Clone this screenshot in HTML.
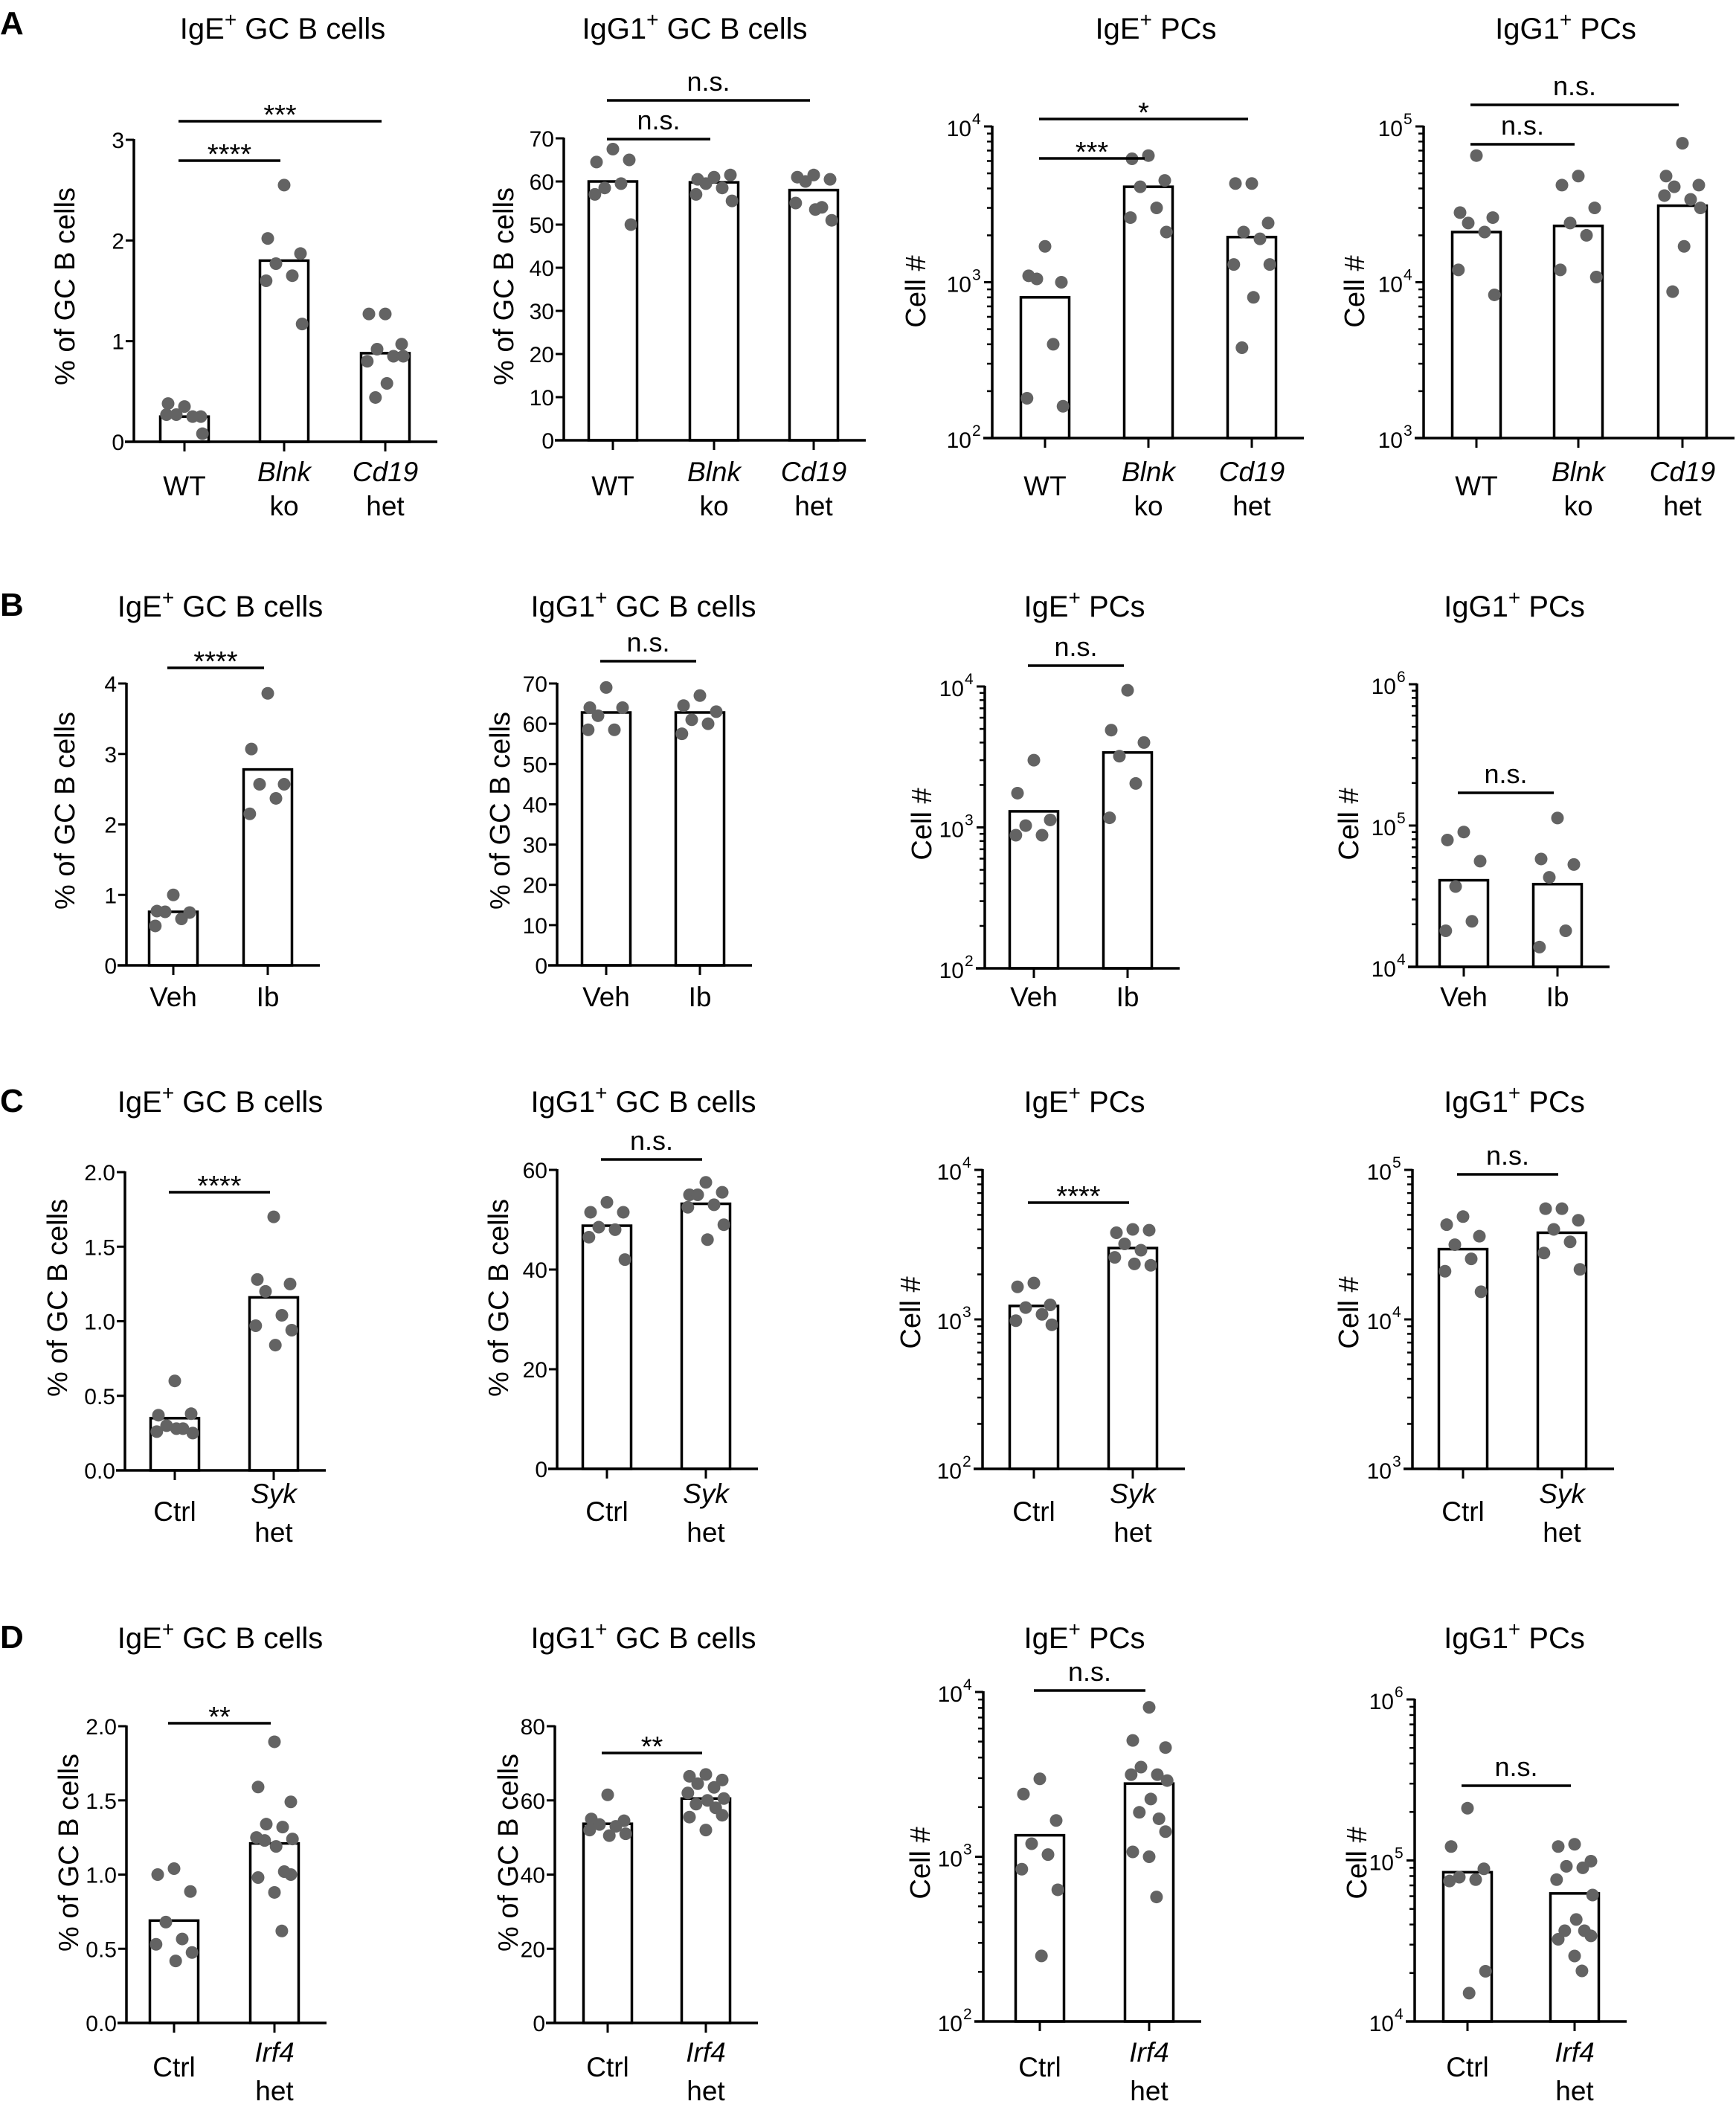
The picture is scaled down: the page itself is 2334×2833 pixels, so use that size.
<!DOCTYPE html>
<html><head><meta charset="utf-8">
<style>
html,body{margin:0;padding:0;background:#fff;}
svg{display:block;font-family:"Liberation Sans",Arial,sans-serif;}
</style></head>
<body>
<svg id="fig" width="2334" height="2833" viewBox="0 0 2334 2833" xmlns="http://www.w3.org/2000/svg">
<rect width="2334" height="2833" fill="#fff"/>
<text x="0" y="46" font-size="44" font-weight="bold">A</text>
<text x="0" y="828" font-size="44" font-weight="bold">B</text>
<text x="0" y="1495" font-size="44" font-weight="bold">C</text>
<text x="0" y="2216" font-size="44" font-weight="bold">D</text>
</svg>
<script>
// ---------- data ----------
const catsA = [["WT"],["Blnk","ko"],["Cd19","het"]];
const catsB = [["Veh"],["Ib"]];
const catsC = [["Ctrl"],["Syk","het"]];
const catsD = [["Ctrl"],["Irf4","het"]];

const ticksPct3 = [0,1,2,3];
const ticksPct4 = [0,1,2,3,4];
const ticks70 = [0,10,20,30,40,50,60,70];
const ticks2 = [0,0.5,1.0,1.5,2.0];
const ticks60 = [0,20,40,60];
const ticks80 = [0,20,40,60,80];

const a1Bars = [0.25,1.8,0.88];
const a1Pts = [[0.35,0.38,0.25,0.27,0.25,0.27,0.08],[2.55,2.02,1.87,1.77,1.65,1.6,1.17],[1.27,1.27,0.97,0.92,0.85,0.8,0.85,0.58,0.44]];
const a2Bars = [60,59.8,58];
const a2Pts = [[67.5,64.5,65,58.5,59.5,57,50],[61,60.5,61.5,59.5,58.5,57,55.5],[61.5,61,60.5,60,54,55,51,53.5]];
const a3Bars = [800,4100,1950];
const a3Pts = [[1700,1100,1000,1050,400,180,160],[6500,6200,4500,4100,3000,2600,2100],[4300,4300,2400,2100,1900,1300,1300,800,380]];
const a4Bars = [21000,23000,31000];
const a4Pts = [[65000,28000,26000,24000,21000,12000,8300],[48000,42000,30000,24000,20000,12000,10800],[78000,48000,42000,41000,34000,36000,30000,17000,8700]];

const b1Bars = [0.76,2.78];
const b1Pts = [[1.0,0.77,0.75,0.76,0.66,0.56],[3.86,3.07,2.57,2.57,2.37,2.15]];
const b2Bars = [62.8,62.8];
const b2Pts = [[69,64,64,62,58.5,58.5],[67,64.5,63,61,60,57.5]];
const b3Bars = [1300,3400];
const b3Pts = [[3000,1750,1130,1030,880,880],[9400,4900,4000,3200,2050,1170]];
const b4Bars = [41000,38500];
const b4Pts = [[90000,79000,56000,37000,21000,18000],[113000,58000,53000,43000,18000,13800]];

const c1Bars = [0.35,1.16];
const c1Pts = [[0.6,0.37,0.38,0.3,0.28,0.26,0.25,0.28],[1.7,1.28,1.25,1.2,1.04,0.97,0.94,0.84]];
const c2Bars = [48.8,53.2];
const c2Pts = [[53.5,51.5,51.5,48.5,48,46.5,42],[57.5,55,55.5,55,53,52.5,49,46]];
const c3Bars = [1230,3000];
const c3Pts = [[1750,1650,1250,1200,1080,980,920],[4000,3800,3950,3200,2900,2600,2300,2350]];
const c4Bars = [29500,38000];
const c4Pts = [[48700,43000,36000,31600,25400,21000,15300],[55000,55000,46000,40000,33000,27800,21600]];

const d1Bars = [0.69,1.21];
const d1Pts = [[1.04,1.0,0.886,0.68,0.566,0.53,0.475,0.418],[1.895,1.59,1.49,1.34,1.32,1.25,1.24,1.19,1.23,1.02,1.0,0.98,0.88,0.62]];
const d2Bars = [53.7,60.5];
const d2Pts = [[61.5,55,54.5,53.5,53,52,51,50.5],[67,66.5,65.5,64.5,63.5,62,60.5,60,59,58,56,55.5,52]];
const d3Bars = [1350,2780];
const d3Pts = [[2970,2400,1660,1200,1030,840,630,250],[8070,5080,4600,3500,3150,3150,2900,2240,1860,1700,1420,1070,1000,570]];
const d4Bars = [84500,62400];
const d4Pts = [[211000,122000,88700,78700,76000,74500,20500,15000],[126000,122000,99000,92000,90000,76000,61000,43000,36600,36600,34000,32400,25500,20600]];

// ---------- drawing ----------
const NS = "http://www.w3.org/2000/svg";
const svg = document.getElementById("fig");
const jit = [0,-1,1,-0.5,0.5,-1.1,1.1,0.1,-0.6,0.6,1,-1,0,0.45];

function mk(tag, attrs, parent){
  const e = document.createElementNS(NS, tag);
  for (const k in attrs) e.setAttribute(k, attrs[k]);
  (parent||svg).appendChild(e);
  return e;
}

function panel(id, L, cats, bars, pts, ticks, sigs){
  const g = mk("g", {});
  
  
  let ys;
  if (L.log){
    const l0 = Math.log10(L.min), l1 = Math.log10(L.max);
    ys = v => L.yBot - (Math.log10(v) - l0) / (l1 - l0) * (L.yBot - L.yTop);
  } else {
    ys = v => L.yBot - (v - L.min) / (L.max - L.min) * (L.yBot - L.yTop);
  }
  // title
  const t = mk("text", {x:L.tx, y:L.ty, "font-size":40, "text-anchor":"middle"}, g);
  
  
  const s1 = mk("tspan", {}, t); s1.textContent = L.title[0];
  const s2 = mk("tspan", {dy:-16, "font-size":28}, t); s2.textContent = "+";
  const s3 = mk("tspan", {dy:16}, t); s3.textContent = L.title[1];
  // y label
  const yl = mk("text", {x:0, y:0, "font-size":38, "text-anchor":"middle", transform:`translate(${L.lx},${L.ly}) rotate(-90)`, "dominant-baseline":"central"}, g);
  
  
  yl.textContent = L.log ? "Cell #" : "% of GC B cells";
  // bars
  const bw = 65;
  bars.forEach((v, i) => {
    const y = ys(v);
    const r = mk("rect", {x:L.c[i]-bw/2, y:y, width:bw, height:L.yBot - y, fill:"#fff", stroke:"#000", "stroke-width":3.5}, g);
    
    
  });
  // points
  pts.forEach((arr, i) => {
    arr.forEach((v, k) => {
      const c = mk("circle", {cx:L.c[i] + jit[k % jit.length]*22, cy:ys(v), r:8.5, fill:"#636363"}, g);
      
      
    });
  });
  // axes
  const ya = mk("line", {x1:L.ax, y1:L.yTop-1, x2:L.ax, y2:L.yBot, stroke:"#000", "stroke-width":3.5}, g);
  
  
  const xEnd = L.c[L.c.length-1] + 70;
  const xa = mk("line", {x1:L.ax-12, y1:L.yBot, x2:xEnd, y2:L.yBot, stroke:"#000", "stroke-width":3.5}, g);
  
  
  // y ticks
  ticks.forEach(v => {
    const y = ys(v);
    mk("line", {x1:L.ax-11, y1:y, x2:L.ax, y2:y, stroke:"#000", "stroke-width":3}, g);
    if (L.log){
      const e = Math.round(Math.log10(v));
      const tl = mk("text", {x:L.ax-28, y:y+13, "font-size":30, "text-anchor":"end"}, g);
      
      
      tl.textContent = "10";
      const sp = mk("text", {x:L.ax-27, y:y-3, "font-size":21, "text-anchor":"start"}, g);
      
      
      sp.textContent = String(e);
    } else {
      const tl = mk("text", {x:L.ax-13, y:y+11, "font-size":30, "text-anchor":"end"}, g);
      
      
      tl.textContent = L.dec ? v.toFixed(1) : String(v);
    }
  });
  if (L.log){
    const l0 = Math.round(Math.log10(L.min)), l1 = Math.round(Math.log10(L.max));
    for (let d = l0; d < l1; d++){
      for (let m = 2; m <= 9; m++){
        const y = ys(m * Math.pow(10, d));
        mk("line", {x1:L.ax-7, y1:y, x2:L.ax, y2:y, stroke:"#000", "stroke-width":2.5}, g);
      }
    }
  }
  // x ticks + category labels
  cats.forEach((lab, i) => {
    mk("line", {x1:L.c[i], y1:L.yBot, x2:L.c[i], y2:L.yBot+13, stroke:"#000", "stroke-width":3}, g);
    if (lab.length === 1){
      const tx = mk("text", {x:L.c[i], y:L.cy1, "font-size":37, "text-anchor":"middle"}, g);
      
      
      tx.textContent = lab[0];
    } else {
      const ta = mk("text", {x:L.c[i], y:L.cy2a, "font-size":37, "text-anchor":"middle", "font-style":"italic"}, g);
      
      
      ta.textContent = lab[0];
      const tb = mk("text", {x:L.c[i], y:L.cy2b, "font-size":37, "text-anchor":"middle"}, g);
      
      
      tb.textContent = lab[1];
    }
  });
  // significance
  sigs.forEach(s => {
    const x1 = L.c[s[0]] - 8, x2 = L.c[s[1]] - 5;
    const ln = mk("line", {x1:x1, y1:s[2], x2:x2, y2:s[2], stroke:"#000", "stroke-width":3.5}, g);
    
    
    const ns = s[3] === "n.s.";
    const st = mk("text", {x:(x1+x2)/2, y: ns ? s[2]-13 : s[2]+4, "font-size": ns ? 36 : 38, "text-anchor":"middle"}, g);
    
    
    st.textContent = s[3];
  });
}

const GE = ["IgE"," GC B cells"], GG = ["IgG1"," GC B cells"], PE = ["IgE"," PCs"], PG = ["IgG1"," PCs"];
const rowA = {cy1:666, cy2a:647, cy2b:693};
const rowB = {cy1:1353, cy2a:1353, cy2b:1395};
const rowC = {cy1:2045, cy2a:2021, cy2b:2073};
const rowD = {cy1:2792, cy2a:2772, cy2b:2824};

panel("a1", Object.assign({title:GE, tx:380, ty:52, ax:180, yTop:188, yBot:594, min:0, max:3, c:[248,382,518], lx:88, ly:385}, rowA), catsA, a1Bars, a1Pts, ticksPct3, [[0,1,216,"****"],[0,2,163,"***"]]);
panel("a2", Object.assign({title:GG, tx:934, ty:52, ax:758, yTop:186, yBot:592, min:0, max:70, c:[824,960,1094], lx:678, ly:385}, rowA), catsA, a2Bars, a2Pts, ticks70, [[0,1,187,"n.s."],[0,2,135,"n.s."]]);
panel("a3", Object.assign({title:PE, tx:1554, ty:52, ax:1334, yTop:170, yBot:589, min:1e2, max:1e4, log:true, c:[1405,1544,1683], lx:1232, ly:392}, rowA), catsA, a3Bars, a3Pts, [1e2,1e3,1e4], [[0,1,213,"***"],[0,2,160,"*"]]);
panel("a4", Object.assign({title:PG, tx:2105, ty:52, ax:1914, yTop:170, yBot:589, min:1e3, max:1e5, log:true, c:[1985,2122,2262], lx:1822, ly:392}, rowA), catsA, a4Bars, a4Pts, [1e3,1e4,1e5], [[0,1,194,"n.s."],[0,2,141,"n.s."]]);

panel("b1", Object.assign({title:GE, tx:296, ty:829, ax:170, yTop:919, yBot:1298, min:0, max:4, c:[233,360], lx:88, ly:1090}, rowB), catsB, b1Bars, b1Pts, ticksPct4, [[0,1,898,"****"]]);
panel("b2", Object.assign({title:GG, tx:865, ty:829, ax:749, yTop:919, yBot:1298, min:0, max:70, c:[815,941], lx:673, ly:1090}, rowB), catsB, b2Bars, b2Pts, ticks70, [[0,1,889,"n.s."]]);
panel("b3", Object.assign({title:PE, tx:1458, ty:829, ax:1324, yTop:923, yBot:1302, min:1e2, max:1e4, log:true, c:[1390,1516], lx:1240, ly:1108}, rowB), catsB, b3Bars, b3Pts, [1e2,1e3,1e4], [[0,1,895,"n.s."]]);
panel("b4", Object.assign({title:PG, tx:2036, ty:829, ax:1905, yTop:920, yBot:1300, min:1e4, max:1e6, log:true, c:[1968,2094], lx:1814, ly:1108}, rowB), catsB, b4Bars, b4Pts, [1e4,1e5,1e6], [[0,1,1066,"n.s."]]);

panel("c1", Object.assign({title:GE, tx:296, ty:1495, ax:168, yTop:1576, yBot:1977, min:0, max:2, dec:true, c:[235,368], lx:78, ly:1745}, rowC), catsC, c1Bars, c1Pts, ticks2, [[0,1,1603,"****"]]);
panel("c2", Object.assign({title:GG, tx:865, ty:1495, ax:749, yTop:1573, yBot:1975, min:0, max:60, c:[816,949], lx:671, ly:1745}, rowC), catsC, c2Bars, c2Pts, ticks60, [[0,1,1559,"n.s."]]);
panel("c3", Object.assign({title:PE, tx:1458, ty:1495, ax:1321, yTop:1573, yBot:1975, min:1e2, max:1e4, log:true, c:[1390,1523], lx:1225, ly:1765}, rowC), catsC, c3Bars, c3Pts, [1e2,1e3,1e4], [[0,1,1617,"****"]]);
panel("c4", Object.assign({title:PG, tx:2036, ty:1495, ax:1899, yTop:1573, yBot:1975, min:1e3, max:1e5, log:true, c:[1967,2100], lx:1814, ly:1765}, rowC), catsC, c4Bars, c4Pts, [1e3,1e4,1e5], [[0,1,1579,"n.s."]]);

panel("d1", Object.assign({title:GE, tx:296, ty:2216, ax:170, yTop:2321, yBot:2720, min:0, max:2, dec:true, c:[234,369], lx:93, ly:2491}, rowD), catsD, d1Bars, d1Pts, ticks2, [[0,1,2317,"**"]]);
panel("d2", Object.assign({title:GG, tx:865, ty:2216, ax:746, yTop:2321, yBot:2720, min:0, max:80, c:[817,949], lx:684, ly:2491}, rowD), catsD, d2Bars, d2Pts, ticks80, [[0,1,2357,"**"]]);
panel("d3", Object.assign({title:PE, tx:1458, ty:2216, ax:1322, yTop:2275, yBot:2718, min:1e2, max:1e4, log:true, c:[1398,1545], lx:1238, ly:2505}, rowD), catsD, d3Bars, d3Pts, [1e2,1e3,1e4], [[0,1,2273,"n.s."]]);
panel("d4", Object.assign({title:PG, tx:2036, ty:2216, ax:1902, yTop:2285, yBot:2718, min:1e4, max:1e6, log:true, c:[1973,2117], lx:1825, ly:2505}, rowD), catsD, d4Bars, d4Pts, [1e4,1e5,1e6], [[0,1,2401,"n.s."]]);
</script>
</body></html>
